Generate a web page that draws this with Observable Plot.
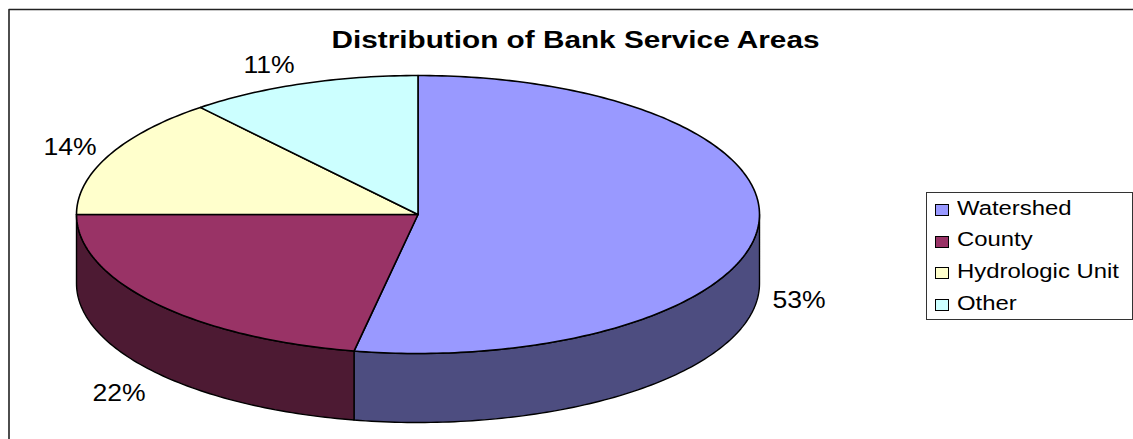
<!DOCTYPE html>
<html>
<head>
<meta charset="utf-8">
<script src="https://cdn.jsdelivr.net/npm/d3@7"></script>
<script src="https://cdn.jsdelivr.net/npm/@observablehq/plot@0.6"></script>
<style>
  html, body { margin: 0; padding: 0; background: #fff; overflow: hidden; }
  #chart { position: relative; width: 1133px; height: 439px; font-family: "Liberation Sans", Arial, sans-serif; }
  #chart svg { display: block; }
  #legend { position: absolute; left: 926px; top: 192px; width: 205px; height: 126px; border: 1.4px solid #333; background: #fff; box-sizing: content-box; }
  .entry { position: absolute; left: 8px; height: 20px; line-height: 20px; font-size: 20.5px; color: #000; white-space: nowrap; }
  .entry i { position: absolute; left: 0; top: 6.5px; width: 12px; height: 10px; border: 1.4px solid #000; }
  .entry span { display: inline-block; margin-left: 22px; transform: scaleX(1.165); transform-origin: 0 50%; }
</style>
</head>
<body>
<div id="chart"></div>
<script>
const title = "Distribution of Bank Service Areas";
const categories = ["Watershed", "County", "Hydrologic Unit", "Other"];
const shares = [53, 22, 14, 11];
const topColors = ["#9999ff", "#993366", "#ffffcc", "#ccffff"];

// Tilted-disc geometry in pixels; both scales are one-to-one with the svg.
const width = 1133, height = 439;
const cx = 417.5, cy = 214, rx = 341.5, ry = 139, depth = 69;
const xScale = {domain: [0, width], range: [0, width]};
const yScale = {domain: [0, height], range: [0, height]};
const rim = (turn) => [cx + rx * Math.sin(turn * 2 * Math.PI), cy - ry * Math.cos(turn * 2 * Math.PI)];

// Cumulative turn at which each slice starts and stops, clockwise from twelve o'clock.
const total = d3.sum(shares);
const slices = [];
shares.reduce((start, value, i) => {
  const stop = start + value / total;
  slices.push({name: categories[i], value, start, stop, top: topColors[i],
               side: d3.interpolateRgb(topColors[i], "#000")(0.5)});
  return stop;
}, 0);

function arcTurns(start, stop) {
  const n = Math.max(2, Math.ceil((stop - start) * 360));
  return d3.range(n + 1).map((i) => start + (stop - start) * i / n);
}

// Upper face wedge: hub, rim arc, back to the hub.
const wedgePoints = slices.flatMap((s) => {
  const arc = arcTurns(s.start, s.stop).map(rim);
  return [[cx, cy], ...arc, [cx, cy]].map(([x, y]) => ({x, y, name: s.name, fill: s.top}));
});

// Visible outer wall: only the part of the rim on the near half of the disc.
const wallPoints = slices.flatMap((s) => {
  const a = Math.max(s.start, 0.25), b = Math.min(s.stop, 0.75);
  if (b <= a) return [];
  const arc = arcTurns(a, b).map(rim);
  const lower = arc.slice().reverse().map(([x, y]) => [x, y + depth]);
  const ring = [...arc, ...lower, arc[0]];
  return ring.map(([x, y]) => ({x, y, name: s.name, fill: s.side}));
});

// Percent labels sit just outside the disc, next to their slices.
const labels = [
  {i: 0, x: 798.5, y: 300},
  {i: 1, x: 118.5, y: 393},
  {i: 2, x: 69.5, y: 147},
  {i: 3, x: 268.5, y: 64.5}
].map((d) => ({...d, text: `${slices[d.i].value}%`}));

const plot = Plot.plot({
  width, height,
  margin: 0,
  x: {...xScale, axis: null},
  y: {...yScale, axis: null},
  marks: [
    Plot.line([[8.5, 439], [8.5, 9], [1133, 9]], {stroke: "#222", strokeWidth: 1.6}),
    Plot.line(wallPoints, {x: "x", y: "y", z: "name", fill: "fill", stroke: "#000", strokeWidth: 1.4, curve: "linear"}),
    Plot.line(wedgePoints, {x: "x", y: "y", z: "name", fill: "fill", stroke: "#000", strokeWidth: 1.6, curve: "linear"}),
    Plot.text(labels, {x: "x", y: "y", text: "text", fontSize: 23.5, fill: "#000", textAnchor: "middle", lineAnchor: "middle",
      fontFamily: "Liberation Sans, Arial, sans-serif", className: "value-label"}),
    Plot.text([title], {x: () => 575, y: () => 39.5, text: (d) => d, fontSize: 23.5, fontWeight: "bold", fill: "#000", textAnchor: "middle", lineAnchor: "middle",
      fontFamily: "Liberation Sans, Arial, sans-serif", className: "chart-title"})
  ]
});

const chart = document.getElementById("chart");
chart.appendChild(plot);

// The type runs wide: widen glyphs to a set length rather than growing the font.
function widen(selector, factor) {
  plot.querySelectorAll(`${selector} text`).forEach((t) => {
    t.setAttribute("textLength", t.getComputedTextLength() * factor);
    t.setAttribute("lengthAdjust", "spacingAndGlyphs");
  });
}
widen(".value-label", 1.13);
widen(".chart-title", 1.265);

// Legend box, drawn over the chart at its right edge.
const legend = document.createElement("div");
legend.id = "legend";
slices.forEach((s, i) => {
  const row = document.createElement("div");
  row.className = "entry";
  row.style.top = `${4.5 + i * 31.7}px`;
  const swatch = document.createElement("i");
  swatch.style.background = s.top;
  const label = document.createElement("span");
  label.textContent = s.name;
  row.append(swatch, label);
  legend.appendChild(row);
});
chart.appendChild(legend);
</script>
</body>
</html>
